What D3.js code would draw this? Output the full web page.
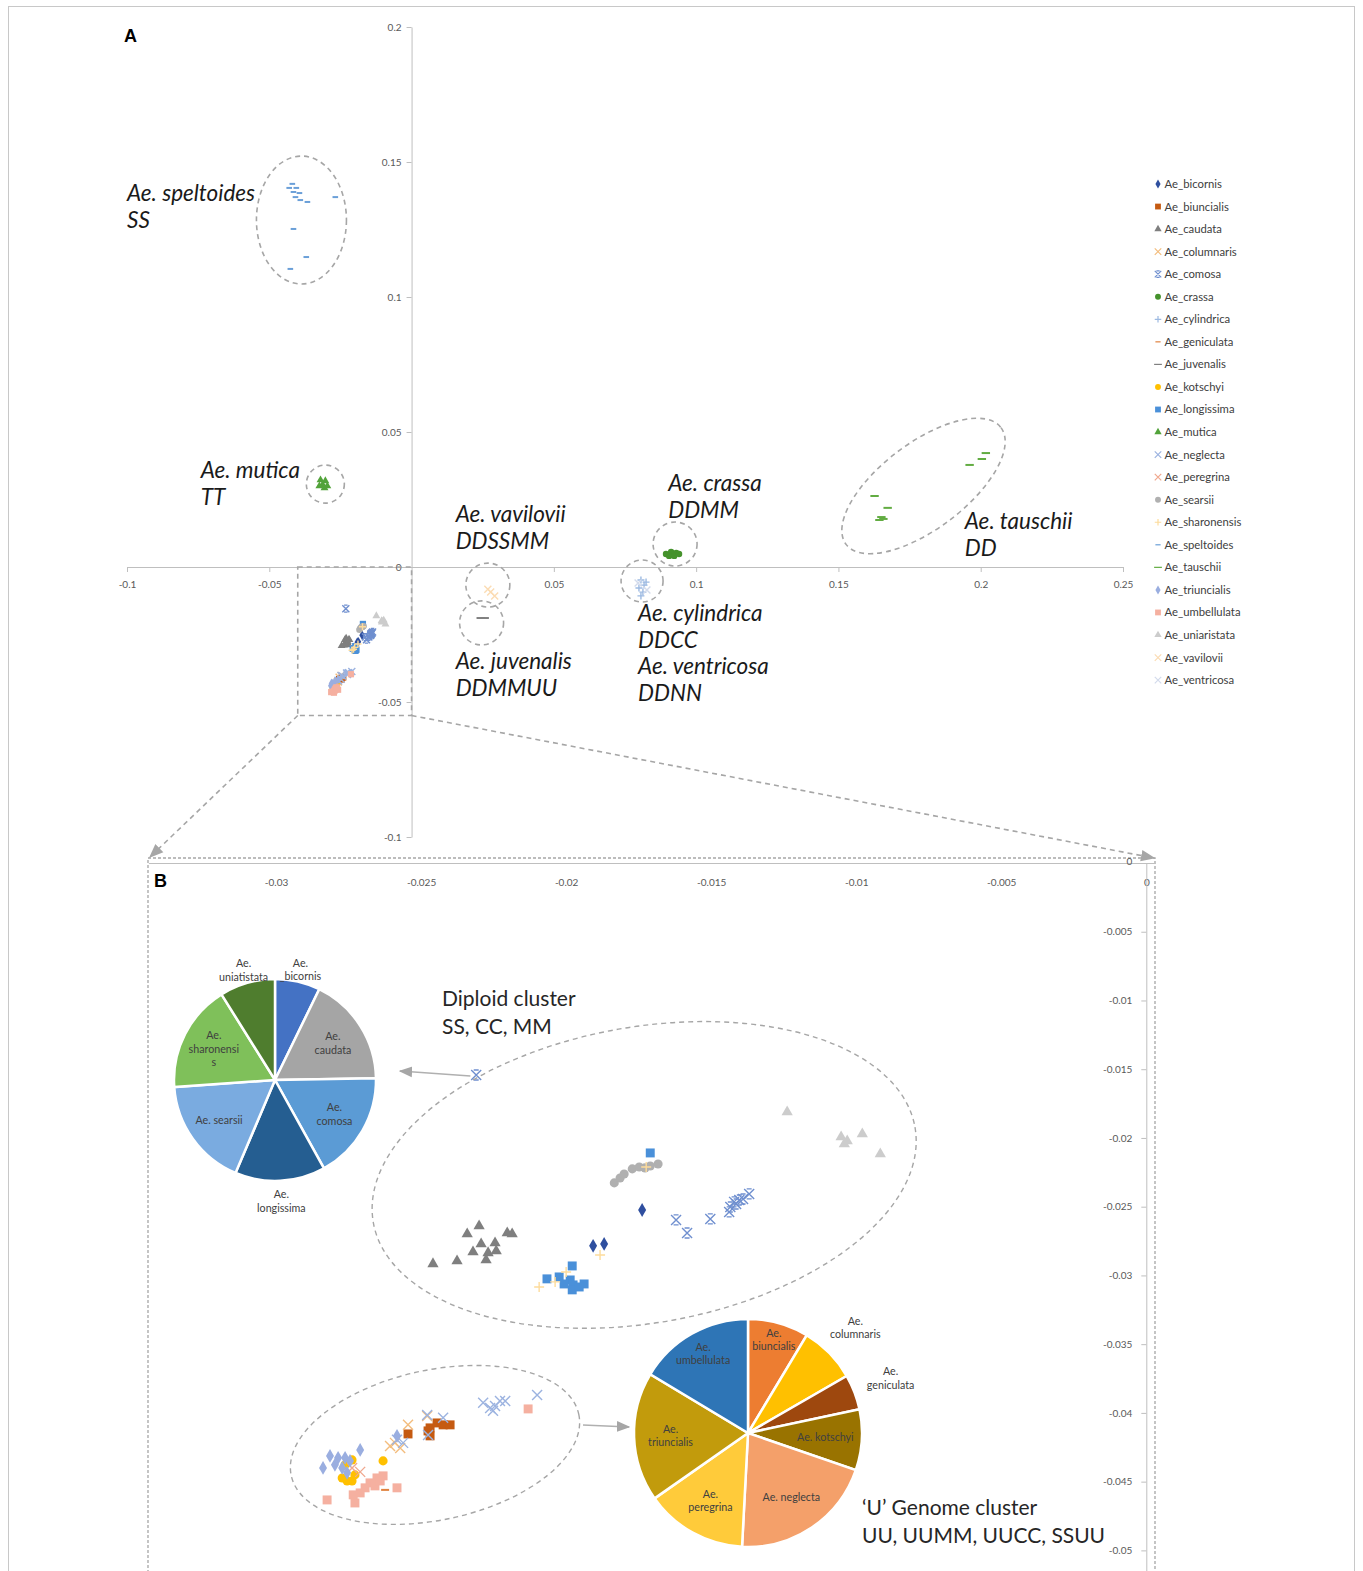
<!DOCTYPE html>
<html>
<head>
<meta charset="utf-8">
<title>Aegilops PCoA</title>
<style>
  body { margin: 0; background: #fff; }
  svg { display: block; font-family: Lato, "Open Sans", sans-serif; }
  .axis path, .axis line { stroke: #bfbfbf; }
  .axis text { fill: #595959; font-size: 10px; font-family: Lato, sans-serif; }
</style>
</head>
<body>
<div id="chart"></div>
<script src="https://cdnjs.cloudflare.com/ajax/libs/d3/7.8.5/d3.min.js"></script>
<script>

// legend order
var speciesNames = ["Ae_bicornis", "Ae_biuncialis", "Ae_caudata", "Ae_columnaris", "Ae_comosa",
  "Ae_crassa", "Ae_cylindrica", "Ae_geniculata", "Ae_juvenalis", "Ae_kotschyi", "Ae_longissima",
  "Ae_mutica", "Ae_neglecta", "Ae_peregrina", "Ae_searsii", "Ae_sharonensis", "Ae_speltoides",
  "Ae_tauschii", "Ae_triuncialis", "Ae_umbellulata", "Ae_uniaristata", "Ae_vavilovii", "Ae_ventricosa"];

// tick values
var xTicksA = [-0.1, -0.05, 0.05, 0.1, 0.15, 0.2, 0.25];
var yTicksA = [-0.1, -0.05, 0, 0.05, 0.1, 0.15, 0.2];
var xTicksB = [-0.03, -0.025, -0.02, -0.015, -0.01, -0.005, 0];
var yTicksB = [0, -0.005, -0.01, -0.015, -0.02, -0.025, -0.03, -0.035, -0.04, -0.045, -0.05];

// coordinates [PCo1, PCo2] per species
var ptsBicornis = [[-0.01738,-0.02524],[-0.01907,-0.02785],[-0.01869,-0.02771]];
var ptsBiuncialis = [[-0.02545,-0.04153],[-0.02476,-0.04131],[-0.02469,-0.04109],[-0.02445,-0.04073],
  [-0.02424,-0.04087],[-0.02400,-0.04087],[-0.02469,-0.04167]];
var ptsCaudata = [[-0.02300,-0.02640],[-0.02341,-0.02698],[-0.02203,-0.02691],[-0.02186,-0.02698],
  [-0.02293,-0.02771],[-0.02245,-0.02764],[-0.02321,-0.02829],[-0.02269,-0.02836],[-0.02241,-0.02822],
  [-0.02276,-0.02887],[-0.02376,-0.02895],[-0.02459,-0.02916]];
var ptsColumnaris = [[-0.02545,-0.04087],[-0.02479,-0.04022],[-0.02607,-0.04240],[-0.02590,-0.04218],[-0.02572,-0.04255]];
var ptsComosa = [[-0.02310,-0.01542],[-0.01621,-0.02596],[-0.01583,-0.02691],[-0.01503,-0.02589],
  [-0.01434,-0.02502],[-0.01421,-0.02465],[-0.01403,-0.02451],[-0.01390,-0.02444],[-0.01369,-0.02407],
  [-0.01438,-0.02538],[-0.01414,-0.02480]];
var ptsCrassa = [[0.0894,0.0048],[0.0912,0.0056],[0.0930,0.0052],[0.0905,0.0041],[0.0923,0.0041],[0.0940,0.0048]];
var ptsCylindrica = [[0.0806,-0.0048],[0.0817,-0.0067],[0.0799,-0.0078],[0.0813,-0.0093],[0.0806,-0.0107],[0.0824,-0.0056]];
var ptsGeniculata = [[-0.02624,-0.04560]];
var ptsJuvenalis = [[0.0257,-0.0189],[0.0243,-0.0189]];
var ptsKotschyi = [[-0.02631,-0.04349],[-0.02772,-0.04473],[-0.02755,-0.04495],[-0.02738,-0.04495],
  [-0.02728,-0.04451],[-0.02762,-0.04378],[-0.02738,-0.04342]];
var ptsLongissima = [[-0.01710,-0.02109],[-0.01979,-0.02931],[-0.02066,-0.03025],[-0.02024,-0.03011],
  [-0.01986,-0.03033],[-0.01976,-0.03069],[-0.01938,-0.03062],[-0.01979,-0.03105],[-0.01955,-0.03084],[-0.02007,-0.03062]];
var ptsMutica = [[-0.0320,0.0322],[-0.0303,0.0319],[-0.0313,0.0304],[-0.0296,0.0300],[-0.0324,0.0300],[-0.0306,0.0293]];
var ptsNeglecta = [[-0.02286,-0.03927],[-0.02262,-0.03964],[-0.02245,-0.03949],[-0.02228,-0.03913],
  [-0.02210,-0.03913],[-0.02252,-0.03985],[-0.02100,-0.03869],[-0.02479,-0.04015],[-0.02424,-0.04036],
  [-0.02476,-0.04160],[-0.02583,-0.04196],[-0.02562,-0.04218]];
var ptsPeregrina = [[-0.02738,-0.04400],[-0.02710,-0.04429]];
var ptsSearsii = [[-0.01834,-0.02327],[-0.01814,-0.02291],[-0.01800,-0.02262],[-0.01772,-0.02225],
  [-0.01748,-0.02211],[-0.01728,-0.02218],[-0.01710,-0.02204],[-0.01683,-0.02189]];
var ptsSharonensis = [[-0.01883,-0.02851],[-0.02093,-0.03084],[-0.02038,-0.03047],[-0.02000,-0.02975],[-0.01724,-0.02211]];
var ptsSpeltoides = [[-0.0419,0.1419],[-0.0405,0.1404],[-0.0415,0.1389],[-0.0394,0.1385],[-0.0408,0.1370],
  [-0.0391,0.1359],[-0.0430,0.1404],[-0.0366,0.1352],[-0.0268,0.1370],[-0.0415,0.1252],[-0.0370,0.1148],[-0.0426,0.1104]];
var ptsTauschii = [[0.1627,0.0263],[0.1673,0.0219],[0.1651,0.0185],[0.1658,0.0178],[0.1644,0.0174],
  [0.1961,0.0378],[0.2004,0.0400],[0.2018,0.0422]];
var ptsTriuncialis = [[-0.02838,-0.04400],[-0.02814,-0.04313],[-0.02786,-0.04327],[-0.02762,-0.04327],
  [-0.02745,-0.04349],[-0.02710,-0.04269],[-0.02583,-0.04167],[-0.02772,-0.04400],[-0.02797,-0.04378],[-0.02755,-0.04436]];
var ptsUmbellulata = [[-0.02131,-0.03971],[-0.02631,-0.04458],[-0.02652,-0.04473],[-0.02676,-0.04509],
  [-0.02693,-0.04545],[-0.02710,-0.04582],[-0.02734,-0.04596],[-0.02728,-0.04655],[-0.02824,-0.04633],
  [-0.02583,-0.04545],[-0.02659,-0.04531],[-0.02641,-0.04495]];
var ptsUniaristata = [[-0.01238,-0.01811],[-0.01052,-0.01993],[-0.01031,-0.02022],[-0.01041,-0.02044],
  [-0.00979,-0.01971],[-0.00917,-0.02116]];
var ptsVavilovii = [[0.0278,-0.0093],[0.0292,-0.0107],[0.0268,-0.0082]];
var ptsVentricosa = [[0.0796,-0.0059],[0.0827,-0.0085]];

// pie charts (share of accessions, read as slice angles)
var diploidPieNames = ["Ae.\n_bicornis", "Ae.\ncaudata", "Ae.\ncomosa", "Ae.\nlongissima", "Ae. searsii", "Ae.\nsharonensi\ns", "Ae.\nuniatistata"];
var diploidPieValues = [26, 63, 62, 52, 63, 62, 32];
var uPieNames = ["Ae.\nbiuncialis", "Ae.\ncolumnaris", "Ae.\ngeniculata", "Ae. kotschyi", "Ae. neglecta", "Ae.\nperegrina", "Ae.\ntriuncialis", "Ae.\numbellulata"];
var uPieValues = [31, 29, 18, 31, 74, 52, 66, 59];

// cluster annotations (anchor of first line, in data units)
var clusterLabelsA = [
  {lines: ["Ae. speltoides", "SS"], x: -0.1, y: 0.1356},
  {lines: ["Ae. mutica", "TT"], x: -0.0741, y: 0.0330},
  {lines: ["Ae. vavilovii", "DDSSMM"], x: 0.0155, y: 0.0167},
  {lines: ["Ae. crassa", "DDMM"], x: 0.0902, y: 0.0281},
  {lines: ["Ae. tauschii", "DD"], x: 0.1944, y: 0.0141},
  {lines: ["Ae. juvenalis", "DDMMUU"], x: 0.0155, y: -0.0378},
  {lines: ["Ae. cylindrica", "DDCC", "Ae. ventricosa", "DDNN"], x: 0.0796, y: -0.0200}
];

// ---- styling ----
var W = 1363, H = 1571;
var style = {
  Ae_bicornis: ["diamond", "#2f4f9f"], Ae_biuncialis: ["square", "#c55a11"], Ae_caudata: ["triangle", "#7f7f7f"],
  Ae_columnaris: ["x", "#f3bd7e"], Ae_comosa: ["star", "#6f8fcf"], Ae_crassa: ["circle", "#45922c"],
  Ae_cylindrica: ["plus", "#9dbae2"], Ae_geniculata: ["dash", "#e0823f"], Ae_juvenalis: ["dashL", "#808080"],
  Ae_kotschyi: ["circle", "#ffc000"], Ae_longissima: ["square", "#4a90d9"], Ae_mutica: ["triangle", "#52a33a"],
  Ae_neglecta: ["x", "#9cb3e0"], Ae_peregrina: ["x", "#f0a88e"], Ae_searsii: ["circle", "#b0b0b0"],
  Ae_sharonensis: ["plus", "#fddc9c"], Ae_speltoides: ["dash", "#6a9fd8"], Ae_tauschii: ["dashL", "#62ac42"],
  Ae_triuncialis: ["diamond", "#9aaee0"], Ae_umbellulata: ["square", "#f5b0a0"], Ae_uniaristata: ["triangle", "#cccccc"],
  Ae_vavilovii: ["x", "#fbdcb4"], Ae_ventricosa: ["x", "#d3dbec"]
};
var allPts = [ptsBicornis, ptsBiuncialis, ptsCaudata, ptsColumnaris, ptsComosa, ptsCrassa, ptsCylindrica,
  ptsGeniculata, ptsJuvenalis, ptsKotschyi, ptsLongissima, ptsMutica, ptsNeglecta, ptsPeregrina, ptsSearsii,
  ptsSharonensis, ptsSpeltoides, ptsTauschii, ptsTriuncialis, ptsUmbellulata, ptsUniaristata, ptsVavilovii, ptsVentricosa];
var series = speciesNames.map(function (n, i) { return {name: n, pts: allPts[i]}; });

function markerPath(shape, s) {
  var h = s / 2;
  if (shape === "diamond") return d3.symbol(d3.symbolDiamond, s * s * 0.55)();
  if (shape === "square") return d3.symbol(d3.symbolSquare, s * s * 0.8)();
  if (shape === "triangle") return d3.symbol(d3.symbolTriangle, s * s * 0.55)();
  if (shape === "circle") return d3.symbol(d3.symbolCircle, s * s * 0.65)();
  if (shape === "x") return "M" + -h + "," + -h + "L" + h + "," + h + "M" + -h + "," + h + "L" + h + "," + -h;
  if (shape === "star") return "M" + -h + "," + -h + "L" + h + "," + h + "M" + -h + "," + h + "L" + h + "," + -h +
    "M" + (-h * 0.5) + "," + -h + "H" + (h * 0.5) + "M" + (-h * 0.5) + "," + h + "H" + (h * 0.5);
  if (shape === "plus") return "M" + -h + ",0H" + h + "M0," + -h + "V" + h;
  if (shape === "dash") return "M" + (-h * 0.8) + ",0H" + (h * 0.8);
  if (shape === "dashL") return "M" + (-h * 1.2) + ",0H" + (h * 1.2);
}
function isStroke(shape) { return ["x", "star", "plus", "dash", "dashL"].indexOf(shape) >= 0; }

var svg = d3.select("#chart").append("svg").attr("width", W).attr("height", H);

var defs = svg.append("defs");
defs.append("marker").attr("id", "arr").attr("viewBox", "0 0 10 10").attr("refX", 9).attr("refY", 5)
  .attr("markerWidth", 9).attr("markerHeight", 9).attr("orient", "auto")
  .append("path").attr("d", "M0,1L10,5L0,9z").attr("fill", "#a6a6a6");
defs.append("clipPath").attr("id", "clipB").append("rect")
  .attr("x", 148).attr("y", 858).attr("width", 1007).attr("height", H - 858);

// outer frame
svg.append("rect").attr("x", 8.5).attr("y", 6.5).attr("width", 1346).attr("height", H)
  .attr("fill", "none").attr("stroke", "#c8c8c8");

// ---- panel A ----
var xA = d3.scaleLinear().domain([-0.1, 0.25]).range([127, 1123]);
var yA = d3.scaleLinear().domain([-0.1, 0.2]).range([837, 27]);

svg.append("g").attr("class", "axis").attr("transform", "translate(0," + yA(0) + ")")
  .call(d3.axisBottom(xA).tickValues(xTicksA).tickSize(5).tickSizeOuter(0).tickFormat(String))
  .selectAll("text").attr("dy", "1.3em");
svg.append("g").attr("class", "axis").attr("transform", "translate(" + xA(0) + ",0)")
  .call(d3.axisLeft(yA).tickValues(yTicksA).tickSize(5).tickSizeOuter(0).tickFormat(String))
  .selectAll("text").attr("x", -10);

function drawPoints(g, xs, ys, size) {
  series.forEach(function (s) {
    var st = style[s.name];
    g.selectAll(null).data(s.pts).enter().append("path")
      .attr("transform", function (d) { return "translate(" + xs(d[0]) + "," + ys(d[1]) + ")"; })
      .attr("d", markerPath(st[0], size))
      .attr("fill", isStroke(st[0]) ? "none" : st[1])
      .attr("stroke", isStroke(st[0]) ? st[1] : "none")
      .attr("stroke-width", st[0].indexOf("dash") === 0 ? 2 : 1.4);
  });
}
drawPoints(svg.append("g"), xA, yA, 7);

// dashed cluster rings in A
var dashStyle = function (sel) {
  return sel.attr("fill", "none").attr("stroke", "#a6a6a6").attr("stroke-width", 1.6).attr("stroke-dasharray", "5,4");
};
var ringsA = [
  {x: -0.0387, y: 0.1285, rx: 45, ry: 64, r: 0},
  {x: -0.0303, y: 0.0307, rx: 19, ry: 19, r: 0},
  {x: 0.0268, y: -0.0067, rx: 22, ry: 22, r: 0},
  {x: 0.0246, y: -0.0207, rx: 22, ry: 22, r: 0},
  {x: 0.0926, y: 0.0085, rx: 22, ry: 22, r: 0},
  {x: 0.0810, y: -0.0052, rx: 21, ry: 21, r: 0},
  {x: 0.1799, y: 0.0300, rx: 97, ry: 43, r: -37}
];
ringsA.forEach(function (e) {
  svg.append("ellipse").call(dashStyle)
    .attr("transform", "translate(" + xA(e.x) + "," + yA(e.y) + ") rotate(" + e.r + ")")
    .attr("rx", e.rx).attr("ry", e.ry);
});

clusterLabelsA.forEach(function (l) {
  var t = svg.append("text").attr("x", xA(l.x)).attr("y", yA(l.y))
    .attr("font-size", 22.5).attr("font-style", "italic").attr("fill", "#1a1a1a");
  l.lines.forEach(function (line, i) {
    t.append("tspan").attr("x", xA(l.x)).attr("dy", i === 0 ? 0 : 26.7).text(line);
  });
});

// zoom box
svg.append("rect").call(dashStyle)
  .attr("x", xA(-0.04)).attr("y", yA(0)).attr("width", xA(0) - xA(-0.04)).attr("height", yA(-0.055) - yA(0));
svg.append("line").call(dashStyle).attr("marker-end", "url(#arr)")
  .attr("x1", xA(-0.04)).attr("y1", yA(-0.055)).attr("x2", 150).attr("y2", 857);
svg.append("line").call(dashStyle).attr("marker-end", "url(#arr)")
  .attr("x1", xA(0)).attr("y1", yA(-0.055)).attr("x2", 1154).attr("y2", 858);

// legend
var lg = svg.append("g").attr("transform", "translate(1158,184)");
speciesNames.forEach(function (n, i) {
  var st = style[n];
  var row = lg.append("g").attr("transform", "translate(0," + (i * 22.55) + ")");
  row.append("path").attr("d", markerPath(st[0], 6.5))
    .attr("fill", isStroke(st[0]) ? "none" : st[1])
    .attr("stroke", isStroke(st[0]) ? st[1] : "none").attr("stroke-width", 1.2);
  row.append("text").attr("x", 6.5).attr("dy", "0.35em").attr("font-size", 11.3).attr("fill", "#404040").text(n);
});

svg.append("text").attr("x", 124).attr("y", 42).attr("font-size", 18).attr("font-weight", "bold")
  .attr("font-family", "Liberation Sans, Arial, sans-serif").text("A");

// ---- panel B ----
var xB = d3.scaleLinear().domain([-0.0344, 0.0003]).range([148.4, 1155]);
var yB = d3.scaleLinear().domain([-0.0515, 0]).range([1571, 863]);

svg.append("rect").call(dashStyle).attr("stroke-width", 1.3).attr("stroke-dasharray", "3,2")
  .attr("x", 148).attr("y", 858).attr("width", 1007).attr("height", H - 858 + 10);

svg.append("g").attr("class", "axis").attr("transform", "translate(0," + yB(0) + ")")
  .call(d3.axisBottom(xB).tickValues(xTicksB).tickSize(0).tickSizeOuter(0).tickFormat(String))
  .selectAll("text").attr("dy", "1.95em");
svg.append("g").attr("class", "axis").attr("transform", "translate(" + xB(0) + ",0)")
  .call(d3.axisLeft(yB).tickValues(yTicksB).tickSize(5).tickSizeOuter(0).tickFormat(String))
  .selectAll("text").attr("x", -14).attr("dy", function (d) { return d === 0 ? "0.1em" : "0.32em"; });

drawPoints(svg.append("g").attr("clip-path", "url(#clipB)"), xB, yB, 10);

var ringsB = [
  {x: -0.01731, y: -0.02269, rx: 275, ry: 148, r: -10},
  {x: -0.02452, y: -0.04233, rx: 147, ry: 75, r: -12}
];
ringsB.forEach(function (e) {
  svg.append("ellipse").call(dashStyle).attr("stroke-width", 1.4)
    .attr("transform", "translate(" + xB(e.x) + "," + yB(e.y) + ") rotate(" + e.r + ")")
    .attr("rx", e.rx).attr("ry", e.ry);
});

// arrows from clusters to pies
svg.append("line").attr("stroke", "#b0b0b0").attr("stroke-width", 1.5).attr("marker-end", "url(#arr)")
  .attr("x1", xB(-0.0233)).attr("y1", yB(-0.0155)).attr("x2", 400).attr("y2", 1071);
svg.append("line").attr("stroke", "#b0b0b0").attr("stroke-width", 1.5).attr("marker-end", "url(#arr)")
  .attr("x1", 583).attr("y1", 1425).attr("x2", 629).attr("y2", 1427);

function drawPie(cx, cy, r, names, values, colors, outside) {
  var g = svg.append("g").attr("transform", "translate(" + cx + "," + cy + ")");
  var arcs = d3.pie().sort(null).value(function (d) { return d; })(values);
  var arc = d3.arc().innerRadius(0).outerRadius(r);
  g.selectAll("path").data(arcs).enter().append("path").attr("d", arc)
    .attr("fill", function (d, i) { return colors[i]; }).attr("stroke", "#fff").attr("stroke-width", 2.5);
  arcs.forEach(function (a, i) {
    var rr = outside[i] ? r * outside[i] : r * 0.68;
    var c = d3.arc().innerRadius(rr).outerRadius(rr).centroid(a);
    var lines = names[i].split("\n");
    var t = g.append("text").attr("text-anchor", "middle").attr("font-size", 10.7)
      .attr("fill", "#404040").attr("x", c[0]).attr("y", c[1] - (lines.length - 1) * 6.7 + 3.7);
    lines.forEach(function (ln, j) { t.append("tspan").attr("x", c[0]).attr("dy", j ? 13.5 : 0).text(ln); });
  });
}
drawPie(275, 1080, 101, diploidPieNames, diploidPieValues,
  ["#4472c4", "#a5a5a5", "#5b9bd5", "#255e91", "#7aabe0", "#7fc05a", "#4f7d2e"],
  [1.12, 0, 0, 1.2, 0, 0, 1.13]);
drawPie(748, 1433, 114, uPieNames, uPieValues,
  ["#ed7d31", "#ffc000", "#9e480e", "#997300", "#f4a06a", "#ffcb3a", "#c29b0c", "#2e75b6"],
  [0.85, 1.32, 1.34, 0, 0, 0, 0, 0.8]);

// cluster captions
function caption(x, y, lines) {
  var t = svg.append("text").attr("x", x).attr("y", y).attr("font-size", 21).attr("fill", "#262626");
  lines.forEach(function (ln, i) { t.append("tspan").attr("x", x).attr("dy", i ? 28 : 0).text(ln); });
}
caption(442, 1006, ["Diploid cluster", "SS, CC, MM"]);
caption(862, 1515, ["\u2018U\u2019 Genome cluster", "UU, UUMM, UUCC, SSUU"]);

svg.append("text").attr("x", 154).attr("y", 887).attr("font-size", 18).attr("font-weight", "bold")
  .attr("font-family", "Liberation Sans, Arial, sans-serif").text("B");

</script>
</body>
</html>
